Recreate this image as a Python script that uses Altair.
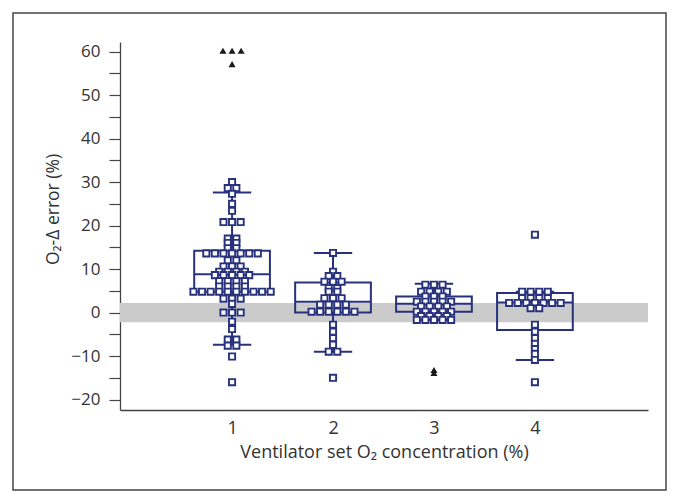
import altair as alt
import pandas as pd

# ---- data ----
groups = [1, 2, 3, 4]
box_q1 = [4.8, 0.0, 0.2, -4.0]
box_median = [8.8, 2.5, 2.0, 2.3]
box_q3 = [14.2, 6.9, 3.7, 4.5]
whisk_low = [-7.4, -9.0, -1.7, -10.9]
whisk_high = [27.6, 13.7, 6.6, 4.8]

g1_values = [30.0, 28.6, 28.6, 27.3, 25.0, 23.4, 20.8, 20.8, 20.8, 17.0, 17.0,
             16.0, 16.0, 14.8, 14.8, 13.6, 13.6, 13.6, 13.6, 13.6, 13.6, 13.6,
             12.0, 12.0, 10.6, 10.6, 10.6, 9.4, 9.4, 9.4, 9.4, 8.6, 8.6, 8.6, 8.6, 8.6,
             7.2, 7.2, 7.2, 7.2, 6.0, 6.0, 6.0, 6.0,
             4.8, 4.8, 4.8, 4.8, 4.8, 4.8, 4.8, 4.8, 4.8, 4.8,
             3.2, 3.2, 3.2, 2.0, 0.0, 0.0, 0.0, -2.1, -3.8, -6.2, -6.2,
             -7.6, -7.6, -10.1, -16.0]
g2_values = [13.7, 9.4, 8.4, 8.4, 7.1, 7.1, 7.1, 5.6, 5.6, 4.8, 4.8,
             3.3, 3.3, 3.3, 1.8, 1.8, 1.8, 1.8, 0.2, 0.2, 0.2, 0.2, 0.2, 0.2,
             -2.8, -4.4, -5.9, -7.4, -9.0, -9.0, -15.0]
g3_values = [6.4, 6.4, 6.4, 4.8, 4.8, 4.8, 4.8, 3.7, 3.7, 3.7,
             2.5, 2.5, 2.5, 2.5, 2.5, 1.4, 1.4, 1.4, 1.4,
             0.2, 0.2, 0.2, 0.2, 0.2, -0.8, -0.8, -0.8, -0.8,
             -1.7, -1.7, -1.7, -1.7, -1.7]
g4_values = [17.9, 4.8, 4.8, 4.8, 4.8, 3.3, 3.3, 3.3, 3.3,
             2.2, 2.2, 2.2, 2.2, 2.2, 2.2, 2.2, 1.0, 1.0,
             -2.8, -4.4, -5.9, -7.2, -8.4, -9.5, -10.9, -16.0]

outlier_group = [1, 1, 1, 1, 3, 3]
outlier_value = [60.2, 60.2, 60.2, 57.1, -13.2, -13.9]

band_low = [-2.2]
band_high = [2.2]

x_labels = [1, 2, 3, 4]

NAVY = "#28327c"
FONT = "Open Sans"
XTITLE = "Ventilator set O₂ concentration (%)"
YTITLE = "O₂-Δ error (%)"


def spread(group_list, value_list, step):
    rows = []
    counts = {}
    for g, v in zip(group_list, value_list):
        counts[(g, v)] = counts.get((g, v), 0) + 1
    seen = {}
    for g, v in zip(group_list, value_list):
        n = counts[(g, v)]
        i = seen.get((g, v), 0)
        seen[(g, v)] = i + 1
        rows.append({"group": g, "value": v, "xpos": g + (i - (n - 1) / 2) * step})
    return pd.DataFrame(rows)


pt_groups, pt_values = [], []
for g, vals in zip(groups, [g1_values, g2_values, g3_values, g4_values]):
    pt_groups += [g] * len(vals)
    pt_values += vals
points = spread(pt_groups, pt_values, 0.085)
outliers = spread(outlier_group, outlier_value, 0.09)

boxes = pd.DataFrame({"group": groups, "q1": box_q1, "median": box_median,
                      "q3": box_q3, "low": whisk_low, "high": whisk_high})
boxes["xl"] = boxes["group"] - 0.375
boxes["xr"] = boxes["group"] + 0.375
boxes["cl"] = boxes["group"] - 0.19
boxes["cr"] = boxes["group"] + 0.19

band = pd.DataFrame({"lo": band_low, "hi": band_high})

W, H = 528, 368
PADL, PADT = 120, 42

xscale = alt.Scale(domain=[-0.11, 5.12], nice=False, zero=False)
yscale = alt.Scale(domain=[-22.4, 62.2], nice=False, zero=False)

xaxis = alt.Axis(values=x_labels, format="d", ticks=False, grid=False,
                 domainColor="#444", domainWidth=1.3,
                 labelFont=FONT, labelFontSize=18, labelColor="#333", labelPadding=9,
                 titleFont=FONT, titleFontSize=18, titleFontWeight="normal",
                 titleColor="#333", titlePadding=6)
yaxis = alt.Axis(values=list(range(-20, 65, 5)),
                 labelExpr="datum.value % 10 === 0 ? datum.label : ''",
                 tickSize=11, grid=False,
                 domainColor="#444", domainWidth=1.3, tickColor="#444", tickWidth=1.2,
                 labelFont=FONT, labelFontSize=17, labelColor="#333", labelPadding=9,
                 titleFont=FONT, titleFontSize=17.5, titleFontWeight="normal",
                 titleColor="#333", titlePadding=8, titleY=167)


def X(field):
    return alt.X(field, scale=xscale, axis=xaxis, title=XTITLE)


def Y(field):
    return alt.Y(field, scale=yscale, axis=yaxis, title=YTITLE)


frame = alt.Chart(pd.DataFrame({"a": [0]})).mark_rect(
    fillOpacity=0, stroke="#444", strokeWidth=1.5, clip=False
).encode(x=alt.value(13 - PADL), x2=alt.value(666 - PADL),
         y=alt.value(13 - PADT), y2=alt.value(490 - PADT))

band_layer = alt.Chart(band).mark_rect(color="#cbcbcb").encode(
    x=alt.value(0), x2=alt.value(W),
    y=Y("lo:Q"), y2="hi:Q")

box_layer = alt.Chart(boxes).mark_rect(
    fillOpacity=0, stroke=NAVY, strokeWidth=2
).encode(x=X("xl:Q"), x2="xr:Q", y=Y("q1:Q"), y2="q3:Q")

median_layer = alt.Chart(boxes).mark_rule(color=NAVY, strokeWidth=2).encode(
    x=X("xl:Q"), x2="xr:Q", y=Y("median:Q"))

whisk_lo = alt.Chart(boxes).mark_rule(color=NAVY, strokeWidth=2).encode(
    x=X("group:Q"), y=Y("low:Q"), y2="q1:Q")
whisk_hi = alt.Chart(boxes).mark_rule(color=NAVY, strokeWidth=2).encode(
    x=X("group:Q"), y=Y("q3:Q"), y2="high:Q")
cap_lo = alt.Chart(boxes).mark_rule(color=NAVY, strokeWidth=2).encode(
    x=X("cl:Q"), x2="cr:Q", y=Y("low:Q"))
cap_hi = alt.Chart(boxes).mark_rule(color=NAVY, strokeWidth=2).encode(
    x=X("cl:Q"), x2="cr:Q", y=Y("high:Q"))

pts = alt.Chart(points).mark_point(
    shape="square", filled=True, fill="white", stroke=NAVY,
    strokeWidth=1.9, size=38, opacity=1
).encode(x=X("xpos:Q"), y=Y("value:Q"))

tri = alt.Chart(outliers).mark_point(
    shape="triangle-up", filled=True, color="#1a1a1a", size=50, opacity=1
).encode(x=X("xpos:Q"), y=Y("value:Q"))

chart = alt.layer(
    frame, band_layer, box_layer, median_layer, whisk_lo, whisk_hi,
    cap_lo, cap_hi, pts, tri
).properties(
    width=W, height=H,
    autosize=alt.AutoSizeParams(type="none"),
    padding={"left": PADL, "top": PADT, "right": 679 - PADL - W, "bottom": 502 - PADT - H},
    background="white",
).configure_view(stroke=None)

chart.save("out.html", embed_options={"renderer": "svg", "actions": False})
